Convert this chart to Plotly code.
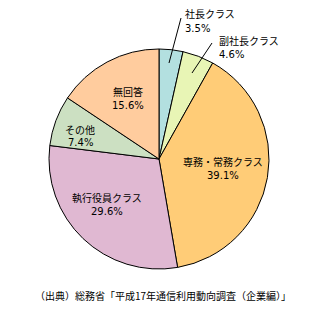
import plotly.graph_objects as go

categories = ["社長クラス", "副社長クラス", "専務・常務クラス", "執行役員クラス", "その他", "無回答"]
values = [3.5, 4.6, 39.1, 29.6, 7.4, 15.6]
colors = ["#b3e0e0", "#e8f5b5", "#ffcc77", "#e0b8d2", "#cce0c2", "#ffcc9e"]
source = "（出典）総務省「平成17年通信利用動向調査（企業編）」"

W, H = 314, 312
FONT = "Noto Sans CJK JP"

fig = go.Figure(go.Pie(
    labels=categories, values=values, sort=False, direction="clockwise", rotation=0,
    marker=dict(colors=colors, line=dict(color="black", width=1)),
    textinfo="none", hoverinfo="label+percent", showlegend=False,
    domain=dict(x=[49 / W, 269 / W], y=[1 - 269 / H, 1 - 49 / H]),
))

def px(x, y):
    return x / W, 1 - y / H

# label positions (pixels) for each category
label_pos = {
    "社長クラス": (183, 21, "left"),
    "副社長クラス": (217, 47, "left"),
    "専務・常務クラス": (223, 168, "center"),
    "執行役員クラス": (107, 204, "center"),
    "その他": (80, 136, "center"),
    "無回答": (128, 98, "center"),
}
anns = []
for cat, val in zip(categories, values):
    x, y, al = label_pos[cat]
    for txt, dy, fam in ((cat, -7, FONT), (f"{val}%", 7, "DejaVu Sans")):
        xx, yy = px(x, y + dy)
        anns.append(dict(x=xx, y=yy, xref="paper", yref="paper", text=txt,
                         showarrow=False, xanchor=al, yanchor="middle", align=al,
                         font=dict(family=fam, size=10, color="black")))

# leader lines for small slices
leaders = [((181, 18), (169, 63)), ((212, 43), (192, 73))]
shapes = []
for (x0, y0), (x1, y1) in leaders:
    a0, b0 = px(x0, y0)
    a1, b1 = px(x1, y1)
    shapes.append(dict(type="line", xref="paper", yref="paper", x0=a0, y0=b0, x1=a1, y1=b1,
                       line=dict(color="black", width=1)))

sx, sy = px(163, 295)
anns.append(dict(x=sx, y=sy, xref="paper", yref="paper", text=source, showarrow=False,
                 xanchor="center", yanchor="middle",
                 font=dict(family=FONT, size=10, color="black")))

fig.update_layout(width=W, height=H, margin=dict(l=0, r=0, t=0, b=0),
                  paper_bgcolor="white", plot_bgcolor="white",
                  annotations=anns, shapes=shapes)
fig.write_html("out.html")
